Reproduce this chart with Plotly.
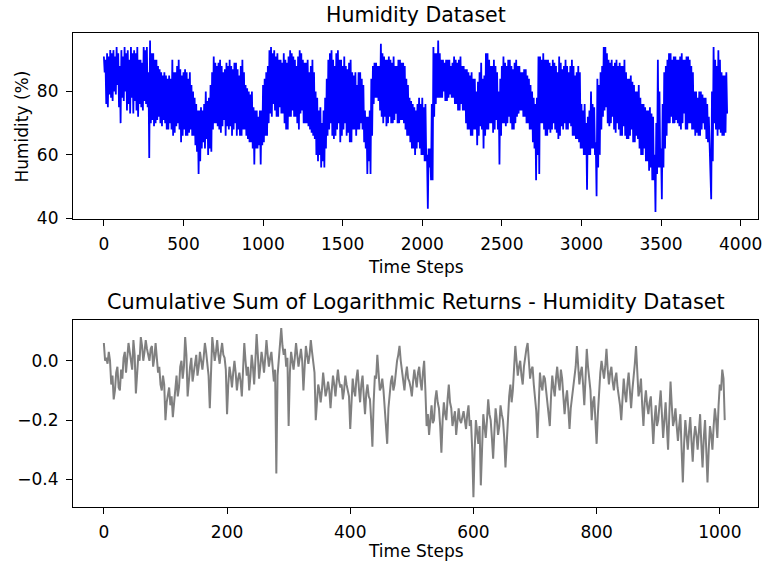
import plotly.graph_objects as go

# ---------------- data ----------------
# Humidity: the trace is very dense, so it is recorded as the high and the low
# reading inside every 10-step window (peaks at t = 0, 10, ..., troughs at t = 5, 15, ...).
humidity_step = 10
humidity_peaks = [
    91, 90, 92, 91, 93, 92, 93, 91, 94, 92, 88, 93, 91, 94, 92, 93, 90, 94, 92, 93,
    92, 94, 90, 90, 89, 94, 93, 94, 86, 96, 92, 92, 90, 90, 88, 87, 86, 85, 86, 85,
    84, 85, 84, 90, 86, 86, 88, 90, 87, 85, 86, 87, 86, 84, 86, 82, 80, 78, 76, 74,
    74, 75, 74, 76, 80, 77, 78, 82, 86, 91, 89, 88, 89, 90, 88, 86, 87, 89, 88, 90,
    88, 87, 89, 89, 87, 85, 88, 90, 86, 82, 81, 80, 79, 80, 75, 74, 74, 72, 74, 74,
    82, 84, 86, 88, 93, 94, 92, 93, 91, 92, 90, 90, 89, 92, 90, 89, 91, 93, 92, 91,
    90, 88, 91, 93, 92, 90, 89, 89, 90, 86, 88, 90, 86, 80, 78, 74, 75, 70, 74, 78,
    84, 90, 92, 93, 90, 88, 92, 93, 90, 90, 88, 91, 88, 87, 89, 90, 86, 85, 86, 82,
    86, 86, 84, 82, 74, 72, 72, 74, 84, 88, 89, 89, 88, 88, 95, 92, 91, 90, 90, 91,
    90, 89, 91, 88, 88, 90, 90, 89, 89, 88, 84, 82, 78, 77, 76, 75, 74, 76, 78, 76,
    78, 75, 76, 60, 62, 62, 76, 94, 92, 92, 96, 92, 90, 90, 89, 90, 90, 90, 88, 89,
    91, 90, 89, 90, 91, 88, 88, 87, 87, 86, 85, 86, 84, 84, 80, 83, 86, 89, 84, 85,
    92, 92, 90, 88, 88, 90, 88, 86, 80, 84, 88, 91, 89, 88, 90, 90, 88, 87, 89, 90,
    88, 88, 86, 86, 87, 87, 85, 84, 82, 80, 78, 76, 78, 91, 91, 90, 92, 90, 90, 90,
    89, 88, 90, 89, 88, 86, 91, 89, 87, 88, 90, 88, 86, 88, 90, 88, 85, 86, 88, 86,
    76, 74, 76, 70, 72, 74, 80, 76, 75, 64, 84, 82, 86, 88, 94, 94, 92, 90, 89, 90,
    88, 89, 90, 88, 89, 88, 88, 90, 86, 84, 84, 85, 83, 82, 80, 80, 82, 78, 76, 76,
    75, 74, 74, 75, 73, 72, 60, 70, 90, 80, 62, 76, 86, 88, 90, 92, 92, 90, 91, 91,
    90, 90, 91, 92, 90, 90, 91, 91, 90, 88, 86, 80, 80, 78, 80, 80, 79, 78, 78, 76,
    72, 60, 80, 94, 90, 88, 93, 90, 86, 85, 85, 86,
]
humidity_troughs = [
    86, 76, 75, 79, 78, 77, 80, 79, 82, 75, 70, 78, 77, 80, 74, 76, 73, 78, 73, 77,
    74, 72, 76, 75, 74, 77, 76, 75, 59, 70, 71, 69, 70, 71, 72, 70, 69, 71, 70, 68,
    68, 70, 68, 66, 67, 69, 70, 68, 64, 66, 68, 66, 66, 67, 68, 66, 66, 63, 61, 54,
    58, 62, 64, 62, 65, 60, 62, 61, 68, 70, 70, 69, 68, 67, 69, 71, 66, 69, 68, 69,
    66, 68, 70, 66, 68, 66, 66, 68, 68, 66, 65, 64, 64, 62, 57, 62, 62, 63, 57, 63,
    64, 66, 66, 70, 73, 72, 76, 74, 72, 72, 75, 73, 73, 70, 68, 68, 72, 72, 74, 72,
    72, 70, 68, 73, 74, 70, 70, 70, 69, 68, 67, 66, 65, 60, 58, 60, 56, 58, 56, 62,
    66, 68, 70, 66, 65, 66, 68, 70, 64, 66, 68, 70, 66, 67, 64, 64, 68, 68, 66, 68,
    68, 70, 68, 64, 62, 54, 58, 54, 66, 76, 78, 78, 77, 74, 72, 70, 72, 69, 70, 72,
    70, 70, 71, 73, 70, 70, 71, 71, 70, 68, 66, 66, 64, 62, 62, 60, 62, 64, 62, 60,
    60, 58, 58, 43, 56, 52, 52, 72, 76, 78, 78, 78, 78, 80, 77, 77, 78, 79, 78, 78,
    76, 76, 74, 74, 76, 74, 74, 70, 68, 68, 66, 66, 68, 68, 63, 66, 69, 68, 62, 66,
    68, 68, 70, 70, 67, 68, 71, 68, 57, 66, 70, 70, 69, 70, 72, 70, 68, 68, 70, 72,
    73, 74, 74, 72, 72, 70, 70, 68, 68, 64, 62, 52, 60, 54, 70, 70, 68, 66, 66, 68,
    67, 68, 70, 68, 67, 65, 66, 69, 68, 70, 68, 68, 70, 69, 66, 66, 65, 65, 64, 62,
    62, 60, 60, 49, 60, 60, 62, 62, 60, 47, 56, 60, 68, 72, 74, 75, 70, 69, 70, 72,
    68, 67, 70, 68, 66, 66, 69, 66, 65, 65, 66, 68, 64, 64, 66, 65, 62, 60, 60, 62,
    58, 58, 55, 56, 52, 52, 42, 54, 56, 56, 46, 56, 62, 66, 70, 70, 72, 70, 70, 71,
    70, 69, 68, 70, 73, 68, 68, 70, 70, 68, 68, 66, 67, 66, 66, 68, 70, 68, 65, 64,
    62, 46, 58, 70, 68, 66, 68, 67, 66, 66, 67, 73,
]

# Cumulative log returns: readings at t = 0, 4, 8, ... and the in-between
# readings at t = 2, 6, 10, ...
logret_step = 4
cum_log_returns = [
    0.06, 0.01, 0.03, -0.08, -0.13, -0.04, -0.09, -0.03, 0.01, -0.04, 0.06, 0.0, 0.07,
    -0.11, 0.02, 0.08, 0.0, 0.07, 0.02, 0.04, -0.02, 0.06, -0.04, -0.08, -0.05,
    -0.2, -0.11, -0.15, -0.19, -0.08, -0.12, -0.02, -0.06, 0.08, -0.12, -0.02, -0.07, 0.0,
    -0.05, 0.03, -0.03, 0.06, -0.02, -0.16, 0.08, 0.0, 0.07, -0.01, 0.06, 0.01,
    -0.18, -0.02, -0.09, 0.0, -0.1, -0.04, -0.12, 0.06, -0.05, -0.1, 0.02, -0.08, 0.09,
    -0.06, 0.03, -0.04, 0.07, -0.02, 0.03, -0.07, -0.38, 0.0, 0.11, 0.02, -0.02,
    -0.22, 0.03, -0.03, 0.06, -0.02, 0.04, -0.1, 0.05, -0.01, 0.07, 0.0, -0.2, -0.08,
    -0.14, -0.04, -0.12, -0.07, -0.16, -0.05, -0.12, -0.03, -0.09, -0.13, -0.05, -0.1,
    -0.23, -0.06, -0.12, -0.03, -0.14, -0.05, -0.18, -0.08, -0.13, -0.29, -0.05, 0.02, -0.1,
    -0.06, -0.15, -0.28, -0.1, -0.05, -0.08, 0.0, 0.05, -0.04, -0.1, -0.02, -0.07,
    -0.12, -0.03, -0.09, -0.02, -0.1, 0.0, -0.22, -0.25, -0.15, -0.2, -0.1, -0.16, -0.31,
    -0.14, -0.2, -0.08, -0.16, -0.2, -0.25, -0.16, -0.21, -0.17, -0.23, -0.15, -0.2,
    -0.46, -0.2, -0.28, -0.42, -0.18, -0.26, -0.13, -0.2, -0.33, -0.16, -0.25, -0.15, -0.2,
    -0.36, -0.18, -0.08, -0.1, 0.05, -0.05, 0.0, -0.08, 0.02, 0.06, -0.06, -0.02,
    -0.12, -0.26, -0.04, -0.1, -0.06, -0.14, -0.22, -0.05, -0.12, -0.02, -0.1, -0.06, -0.18,
    -0.1, -0.23, -0.12, -0.06, 0.05, -0.08, -0.02, -0.15, 0.04, -0.06, -0.2, -0.12,
    -0.28, -0.1, 0.0, -0.06, 0.04, -0.08, -0.02, -0.1, -0.04, -0.12, -0.2, -0.06, -0.14,
    -0.04, -0.16, -0.06, 0.05, -0.12, -0.06, -0.22, -0.1, -0.18, -0.12, -0.28, -0.15,
    -0.2, -0.1, -0.26, -0.14, -0.3, -0.07, -0.22, -0.16, -0.27, -0.18, -0.41, -0.2, -0.3,
    -0.19, -0.34, -0.22, -0.3, -0.18, -0.36, -0.2, -0.41, -0.22, -0.3, -0.16, -0.26,
    -0.08, -0.03, -0.2,
]
cum_log_returns_mid = [
    0.0, -0.01, 0.0, -0.05, -0.1, -0.02, -0.1, -0.06, 0.03, 0.0, 0.03, -0.03, 0.02,
    -0.05, 0.0, 0.05, 0.03, 0.04, 0.0, 0.05, 0.01, 0.02, -0.02, -0.1, -0.08,
    -0.14, -0.09, -0.12, -0.14, -0.05, -0.09, 0.0, -0.02, 0.02, -0.06, 0.01, -0.04, 0.02,
    -0.02, 0.0, 0.01, 0.03, -0.05, -0.04, 0.04, 0.03, 0.02, 0.03, 0.02, -0.03,
    -0.08, -0.05, -0.04, -0.04, -0.06, -0.07, -0.03, 0.0, -0.02, -0.05, -0.02, 0.0, 0.02,
    -0.02, 0.0, 0.01, 0.02, 0.01, -0.02, -0.03, -0.05, 0.04, 0.05, 0.04, 0.01,
    -0.04, 0.0, 0.01, 0.02, 0.01, 0.0, -0.02, 0.02, 0.02, 0.03, -0.04, -0.12, -0.1,
    -0.1, -0.08, -0.1, -0.1, -0.1, -0.08, -0.07, -0.07, -0.08, -0.1, -0.08, -0.12,
    -0.12, -0.1, -0.06, -0.09, -0.08, -0.12, -0.11, -0.12, -0.2, -0.14, -0.06, -0.04, -0.09,
    -0.1, -0.2, -0.16, -0.07, -0.1, -0.03, 0.02, 0.0, -0.07, -0.05, -0.06, -0.09,
    -0.07, -0.06, -0.04, -0.07, -0.04, -0.1, -0.18, -0.2, -0.21, -0.13, -0.14, -0.22, -0.2,
    -0.18, -0.13, -0.14, -0.22, -0.17, -0.19, -0.2, -0.19, -0.2, -0.18, -0.22, -0.3,
    -0.3, -0.24, -0.22, -0.3, -0.22, -0.2, -0.18, -0.26, -0.24, -0.2, -0.22, -0.18, -0.26,
    -0.28, -0.12, -0.14, -0.03, 0.0, -0.02, -0.05, -0.02, 0.04, 0.0, -0.03, -0.08,
    -0.17, -0.14, -0.08, -0.05, -0.1, -0.17, -0.12, -0.09, -0.06, -0.07, -0.03, -0.12, -0.13,
    -0.16, -0.16, -0.1, -0.02, 0.0, -0.04, -0.08, -0.06, -0.02, -0.1, -0.14, -0.2,
    -0.18, -0.04, -0.04, -0.02, -0.03, -0.04, -0.07, -0.06, -0.09, -0.15, -0.12, -0.11, -0.08,
    -0.1, -0.1, -0.01, -0.05, -0.1, -0.15, -0.14, -0.15, -0.14, -0.2, -0.2, -0.22,
    -0.15, -0.18, -0.2, -0.22, -0.18, -0.15, -0.2, -0.22, -0.22, -0.3, -0.28, -0.25, -0.24,
    -0.27, -0.26, -0.25, -0.24, -0.28, -0.26, -0.3, -0.3, -0.25, -0.22, -0.2, -0.15,
    -0.1, -0.06,
]

top_xticks = [0, 500, 1000, 1500, 2000, 2500, 3000, 3500, 4000]
top_yticks = [40, 60, 80]
bot_xticks = [0, 200, 400, 600, 800, 1000]
bot_yticks = [-0.4, -0.2, 0.0]
bot_yticktext = ["\u22120.4", "\u22120.2", "0.0"]

top_title = "Humidity Dataset"
bot_title = "Cumulative Sum of Logarithmic Returns - Humidity Dataset"
x_label = "Time Steps"
y_label = "Humidity (%)"

# ---------------- build the plotted series from the readings ----------------
x_top, y_top = [], []
for i, (hi, lo) in enumerate(zip(humidity_peaks, humidity_troughs)):
    x_top += [i * humidity_step, i * humidity_step + humidity_step // 2]
    y_top += [hi, lo]

x_bot, y_bot = [], []
for i, v in enumerate(cum_log_returns):
    x_bot.append(i * logret_step)
    y_bot.append(v)
    if i < len(cum_log_returns_mid):
        x_bot.append(i * logret_step + logret_step // 2)
        y_bot.append(cum_log_returns_mid[i])

# ---------------- figure ----------------
W, H = 766, 563
ML, MR, MT, MB = 73, 766 - 761.7, 33, 563 - 507
PW, PH = W - ML - MR, H - MT - MB


def px(xp):
    return (xp - ML) / PW


def py(yp):
    return (H - MB - yp) / PH


FONT = "DejaVu Sans"

fig = go.Figure()
fig.add_trace(go.Scatter(x=x_top, y=y_top, mode="lines",
                         line=dict(color="#0000ff", width=1.8),
                         xaxis="x", yaxis="y", hoverinfo="skip"))
fig.add_trace(go.Scatter(x=x_bot, y=y_bot, mode="lines",
                         line=dict(color="#808080", width=2),
                         xaxis="x2", yaxis="y2", hoverinfo="skip"))

axis_common = dict(showline=True, mirror=True, linecolor="black", linewidth=1.2,
                   ticks="outside", ticklen=6, tickwidth=1.2, tickcolor="black",
                   showgrid=False, zeroline=False, ticklabeloverflow="allow",
                   tickfont=dict(family=FONT, size=17, color="black"))

top_bottom = py(219.3)
bot_top = py(320)

fig.update_layout(
    width=W, height=H,
    margin=dict(l=ML, r=MR, t=MT, b=MB),
    paper_bgcolor="white", plot_bgcolor="white", showlegend=False,
    xaxis=dict(domain=[0, 1], anchor="y", range=[-194, 4109], tickvals=top_xticks,
               ticklabelstandoff=3, **axis_common),
    yaxis=dict(domain=[top_bottom, 1], anchor="x", range=[39.7, 98.4], tickvals=top_yticks,
               ticklabelstandoff=4, **axis_common),
    xaxis2=dict(domain=[0, 1], anchor="y2", range=[-50.1, 1062], tickvals=bot_xticks,
                ticklabelstandoff=3, **axis_common),
    yaxis2=dict(domain=[0, bot_top], anchor="x2", range=[-0.493, 0.1375],
                tickvals=bot_yticks, ticktext=bot_yticktext,
                ticklabelstandoff=4, **axis_common),
)

cx = px(417.5)
ann = [
    dict(text=top_title, x=cx, y=py(15.5), size=20.5, angle=0),
    dict(text=bot_title, x=cx, y=py(302), size=20.8, angle=0),
    dict(text=x_label, x=cx, y=py(266.5), size=17, angle=0),
    dict(text=x_label, x=cx, y=py(551), size=17, angle=0),
    dict(text=y_label, x=px(22), y=py(126.3), size=17, angle=-90),
]
for a in ann:
    fig.add_annotation(text=a["text"], x=a["x"], y=a["y"], xref="paper", yref="paper",
                       xanchor="center", yanchor="middle", showarrow=False,
                       textangle=a["angle"],
                       font=dict(family=FONT, size=a["size"], color="black"))

# the page body has a default 8px margin; remove it so the figure fills the window
fig.write_html("out.html", config={"displayModeBar": False},
               post_script="document.body.style.margin='0px';")
